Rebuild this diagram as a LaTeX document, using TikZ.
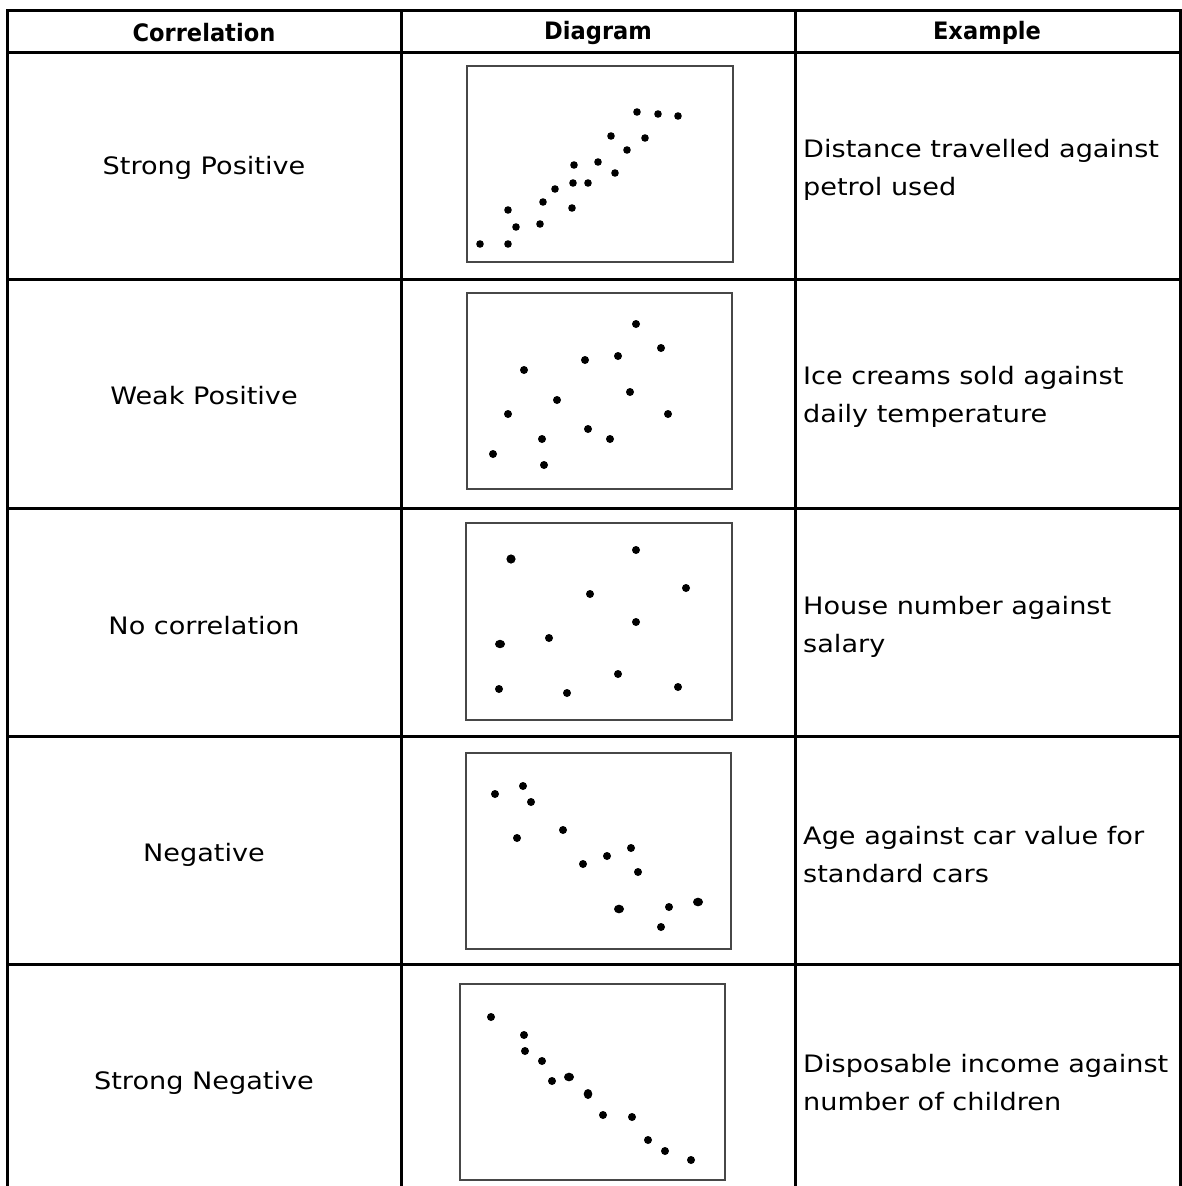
\documentclass[tikz,border=0pt]{standalone}
\usepackage{fontspec}
\setmainfont[FakeStretch=1.13]{DejaVu Sans}
\newfontfamily\hdfont[FakeStretch=0.94]{DejaVu Sans}
\tikzset{
  grid/.style={line width=3pt, line cap=rect, black},
  plotbox/.style={line width=2.4pt, draw=black!72},
  lbl/.style={font=\fontsize{24}{38}\selectfont, inner sep=0pt},
  ex/.style={font=\fontsize{24}{38}\selectfont, inner sep=0pt, align=left, anchor=west},
  hd/.style={font=\hdfont\bfseries\fontsize{24}{28}\selectfont, inner sep=0pt},
}
\begin{document}
\begin{tikzpicture}[x=1pt,y=-1pt]
\useasboundingbox (0,0) rectangle (1182,1186);
% table grid
\foreach \yy in {10,52,279,508,736,964}
  \draw[grid] (7,\yy) -- (1180,\yy);
\foreach \xx in {7,401,795,1180}
  \draw[grid] (\xx,10) -- (\xx,1190);
% header
\node[hd] (h1) at (204,33) {Correlation};
\node[hd] (h2) at (598,33) {Diagram};
\node[hd] (h3) at (987,33) {Example};
% row labels
\node[lbl] (c1) at (204,168) {Strong Positive};
\node[lbl] (c2) at (204,396) {Weak Positive};
\node[lbl] (c3) at (204,626) {No correlation};
\node[lbl] (c4) at (204,855) {Negative};
\node[lbl] (c5) at (204,1083) {Strong Negative};
% examples
\node[ex] (e1) at (803,170) {Distance travelled against\\petrol used};
\node[ex] (e2) at (803,397) {Ice creams sold against\\daily temperature};
\node[ex] (e3) at (803,627) {House number against\\salary};
\node[ex] (e4) at (803,855) {Age against car value for\\standard cars};
\node[ex] (e5) at (803,1083) {Disposable income against\\number of children};
% plot boxes
\draw[plotbox] (467,66) rectangle (733,262);
\draw[plotbox] (467,293) rectangle (732,489);
\draw[plotbox] (466,523) rectangle (732,720);
\draw[plotbox] (466,753) rectangle (731,949);
\draw[plotbox] (460,984) rectangle (725,1180);
% dots: strong positive
\foreach \p in {(637,112),(658,114),(678,116),(611,136),(645,138),(627,150),(574,165),(598,162),(615,173),(573,183),(588,183),(555,189),(543,202),(572,208),(508,210),(516,227),(540,224),(480,244),(508,244)}
  \fill \p circle (3.8pt);
% weak positive
\foreach \p in {(636,324),(661,348),(585,360),(618,356),(524,370),(630,392),(557,400),(508,414),(668,414),(588,429),(542,439),(610,439),(493,454),(544,465)}
  \fill \p circle (4pt);
% no correlation
\foreach \p in {(636,550),(686,588),(590,594),(636,622),(549,638),(618,674),(499,689),(567,693),(678,687)}
  \fill \p circle (4pt);
\fill (511,559) circle (4.6pt);
\fill (500,644) ellipse (5pt and 4.2pt);
% negative
\foreach \p in {(495,794),(523,786),(531,802),(563,830),(517,838),(631,848),(607,856),(583,864),(638,872),(669,907),(661,927)}
  \fill \p circle (4pt);
\fill (619,909) ellipse (5pt and 4.3pt);
\fill (698,902) ellipse (5pt and 4.3pt);
% strong negative
\foreach \p in {(491,1017),(524,1035),(525,1051),(542,1061),(552,1081),(603,1115),(632,1117),(648,1140),(665,1151),(691,1160)}
  \fill \p circle (4pt);
\fill (569,1077) ellipse (5pt and 4.3pt);
\fill (588,1094) ellipse (4.3pt and 5pt);
\end{tikzpicture}
\end{document}
